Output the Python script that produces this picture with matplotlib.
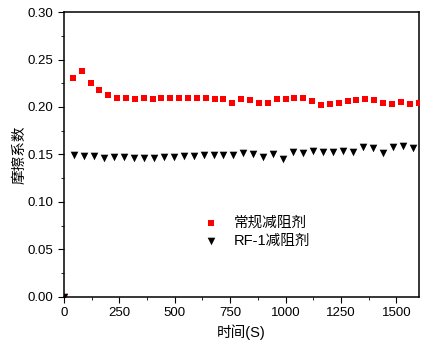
import numpy as np
import matplotlib.pyplot as plt
from matplotlib.ticker import MultipleLocator

plt.rcParams['font.family'] = ['Liberation Sans', 'Noto Sans CJK SC', 'DejaVu Sans']

# 常规减阻剂 (every 40 s)
t_normal = np.arange(0, 1601, 40)
f_normal = [0.000, 0.231, 0.238, 0.225, 0.218, 0.213, 0.209, 0.209, 0.208, 0.209,
            0.208, 0.209, 0.210, 0.209, 0.209, 0.209, 0.209, 0.208, 0.208, 0.204,
            0.208, 0.207, 0.204, 0.204, 0.208, 0.208, 0.209, 0.209, 0.206, 0.202,
            0.203, 0.204, 0.206, 0.207, 0.208, 0.207, 0.204, 0.203, 0.205, 0.203,
            0.204]

# RF-1减阻剂 (every 45 s)
t_rf1 = np.arange(0, 1576, 45)
f_rf1 = [0.000, 0.149, 0.148, 0.148, 0.146, 0.147, 0.147, 0.146, 0.146, 0.146,
         0.147, 0.147, 0.148, 0.148, 0.149, 0.149, 0.149, 0.149, 0.152, 0.150,
         0.147, 0.150, 0.145, 0.153, 0.152, 0.154, 0.153, 0.153, 0.154, 0.153,
         0.158, 0.157, 0.152, 0.158, 0.159, 0.157]

fig = plt.figure(figsize=(4.41, 3.47), dpi=100)
ax = fig.add_axes([0.145, 0.145, 0.804, 0.82])

ax.scatter(t_normal, f_normal, marker='s', s=24, color='#ff0000', linewidths=0,
           label='常规减阻剂', zorder=3)
ax.scatter(t_rf1, f_rf1, marker='v', s=30, color='black', linewidths=0,
           label='RF-1减阻剂', zorder=3)

ax.set_xlim(0, 1600)
ax.set_ylim(0, 0.30)
ax.xaxis.set_major_locator(MultipleLocator(250))
ax.xaxis.set_minor_locator(MultipleLocator(125))
ax.yaxis.set_major_locator(MultipleLocator(0.05))
ax.yaxis.set_minor_locator(MultipleLocator(0.025))
ax.yaxis.set_major_formatter(plt.FormatStrFormatter('%.2f'))
ax.tick_params(which='both', direction='out', top=False, right=False, labelsize=9.5)
ax.tick_params(which='major', length=4)
ax.tick_params(which='minor', length=2.5)
for sp in ax.spines.values():
    sp.set_linewidth(1.1)

ax.set_xlabel('时间(S)', fontsize=10.5, labelpad=4)
ax.set_ylabel('摩擦系数', fontsize=10.5, labelpad=1)

ax.legend(loc='upper left', bbox_to_anchor=(0.336, 0.33), frameon=False,
          fontsize=10.5, handletextpad=0.6, labelspacing=0.25, markerscale=1.0)

fig.savefig('out.png', dpi=100)
